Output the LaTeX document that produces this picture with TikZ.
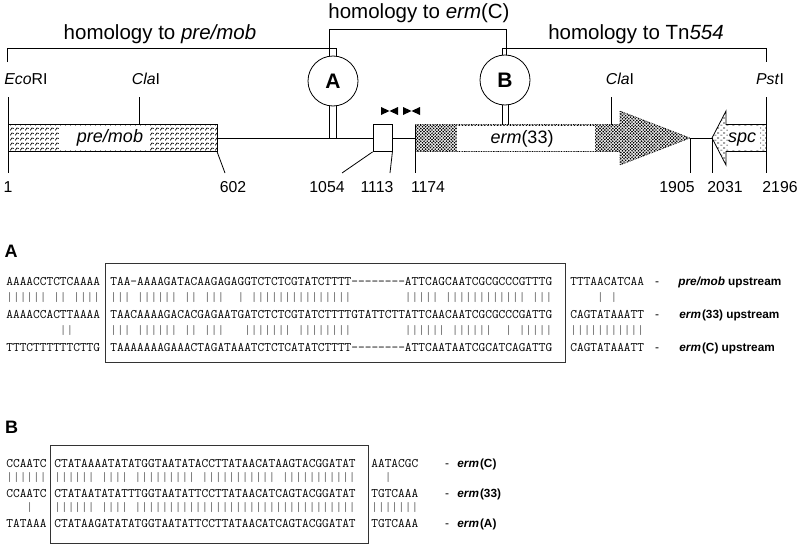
\documentclass[tikz,border=0pt]{standalone}
\usepackage{fontspec}
\setmainfont{Liberation Sans}
\usetikzlibrary{patterns}
\pgfdeclarepatternformonly{stip}{\pgfqpoint{-1pt}{-1pt}}{\pgfqpoint{4.2pt}{4.2pt}}{\pgfqpoint{3.2pt}{3.2pt}}{%
  \pgfpathcircle{\pgfqpoint{0pt}{0pt}}{0.95pt}%
  \pgfpathcircle{\pgfqpoint{1.6pt}{1.6pt}}{0.95pt}%
  \pgfusepath{fill}}
\pgfdeclarepatternformonly{scales}{\pgfqpoint{0pt}{0pt}}{\pgfqpoint{5pt}{5pt}}{\pgfqpoint{5pt}{5pt}}{%
  \pgfsetlinewidth{0.8pt}%
  \pgfpathmoveto{\pgfqpoint{0.4pt}{0.8pt}}%
  \pgfpathcurveto{\pgfqpoint{0.8pt}{3.5pt}}{\pgfqpoint{3.4pt}{4.6pt}}{\pgfqpoint{4.6pt}{3pt}}%
  \pgfusepath{stroke}}
\pgfdeclarepatternformonly{hdash}{\pgfqpoint{0pt}{0pt}}{\pgfqpoint{6pt}{5pt}}{\pgfqpoint{6pt}{5pt}}{%
  \pgfsetlinewidth{0.8pt}%
  \pgfpathmoveto{\pgfqpoint{0.5pt}{1pt}}\pgfpathlineto{\pgfqpoint{2.8pt}{1pt}}%
  \pgfpathmoveto{\pgfqpoint{3.5pt}{3.5pt}}\pgfpathlineto{\pgfqpoint{5.8pt}{3.5pt}}%
  \pgfusepath{stroke}}
\begin{document}
\begin{tikzpicture}[x=1pt,y=-1pt,line width=0.8pt,
  lbl/.style={inner sep=0pt,font=\fontsize{15.8}{16}\selectfont},
  hom/.style={inner sep=0pt,anchor=base,font=\fontsize{20.5}{22}\selectfont},
  gene/.style={inner sep=0pt,anchor=base,font=\fontsize{18}{18}\selectfont\itshape},
  circ/.style={circle,draw,fill=white,minimum size=50pt,inner sep=0pt,font=\bfseries\fontsize{21}{21}\selectfont},
  seq/.style={inner sep=0pt,anchor=base west,font=\fontsize{13}{13}\selectfont\ttfamily},
  bars/.style={seq,text=black!60},
  tag/.style={inner sep=0pt,anchor=base west,font=\bfseries\fontsize{11.8}{12}\selectfont},
  dsh/.style={inner sep=0pt,anchor=base,font=\fontsize{12}{12}\selectfont},
  sect/.style={inner sep=0pt,font=\bfseries\fontsize{18}{18}\selectfont},
  seqbox/.style={draw=black!80,line width=0.9pt}]
\useasboundingbox (0,0) rectangle (800,546);

% ---------------- map ----------------
\node[hom] (hpm) at (160,39.5) {homology to \textit{pre/mob}};
\node[hom] (hec) at (419,18.5) {homology to \textit{erm}(C)};
\node[hom] (htn) at (636,39.5) {homology to Tn\textit{554}};

\node[circ] (cA) at (333,81) {A};
\node[circ] (cB) at (505,80) {B};

\draw (7.5,62) -- (7.5,48) -- (336,48) -- ([xshift=3pt]cA.north);
\draw ([xshift=-4pt]cA.north) -- (329,29) -- (506,29) -- ([xshift=1pt]cB.north);
\draw ([xshift=-3pt]cB.north) -- (502,48) -- (766,48) -- (766,62);

% site labels
\node[lbl,anchor=west] (eco) at (4,79) {\textit{Eco}RI};
\node[lbl] (cla1) at (146,79) {\textit{Cla}I};
\node[lbl] (cla2) at (620,79) {\textit{Cla}I};
\node[lbl] (pst) at (770,79) {\textit{Pst}I};

% pre/mob box
\fill[pattern=scales] (8,124.5) rectangle (217,151.5);
\fill[white] (60,126) rectangle (150,150);
\draw (8,124.5) rectangle (217,151.5);
\node[gene] (gpm) at (110,142.5) {pre/mob};

% backbone
\coordinate (bb1) at (217,138);
\node[draw,fill=white,minimum width=19pt,minimum height=27pt,inner sep=0pt] (sbox) at (382.5,138) {};
\draw (bb1) -- (sbox.west);
\draw (sbox.east) -- (415,138);
\draw ([xshift=-4pt]cA.south) -- (329,138);
\draw ([xshift=3pt]cA.south) -- (336,138);

% erm(33) arrow
\fill[pattern=stip] (415,124.5) -- (620,124.5) -- (620,111) -- (690,138) -- (620,165) -- (620,151.5) -- (415,151.5) -- cycle;
\fill[white] (457,125.5) rectangle (595,150.5);
\draw[densely dotted,line width=0.7pt] (415,124.5) -- (620,124.5) -- (620,111) -- (690,138) -- (620,165) -- (620,151.5) -- (415,151.5);
\node[gene] (germ) at (522,143.5) {erm\upshape(33)};
\draw ([xshift=-3pt]cB.south) -- (502,124.5);
\draw ([xshift=3pt]cB.south) -- (508,124.5);

% spc arrow
\fill[pattern=hdash] (766,124.5) -- (726,124.5) -- (726,111) -- (712,138) -- (726,165) -- (726,151.5) -- (766,151.5) -- cycle;
\fill[white] (728,126) rectangle (760,150);
\draw (766,124.5) -- (726,124.5) -- (726,111) -- (712,138) -- (726,165) -- (726,151.5) -- (766,151.5);
\node[gene] (gspc) at (742,142) {spc};
\draw (690,138) -- (712,138);

% ticks
\draw (8,97) -- (8,173);
\draw (139,97) -- (139,124.5);
\draw (611,97) -- (611,124.5);
\draw (766,97) -- (766,173);
\draw (217,151.5) -- (225,173);
\draw (sbox.south west) -- (342,173);
\draw (sbox.south east) -- (390,173);
\draw (415,124.5) -- (415,173);
\draw (690,138) -- (690,173);
\draw (712,138) -- (712,173);

% inverted repeats
\fill (381,107) -- (389.5,111) -- (381,115) -- cycle;
\fill (398,107) -- (389.5,111) -- (398,115) -- cycle;
\fill (403,107) -- (411.5,111) -- (403,115) -- cycle;
\fill (420,107) -- (411.5,111) -- (420,115) -- cycle;

% positions
\node[lbl] (p1) at (8,187) {1};
\node[lbl] (p602) at (233,187) {602};
\node[lbl] (p1054) at (327,187) {1054};
\node[lbl] (p1113) at (377,187) {1113};
\node[lbl] (p1174) at (428,187) {1174};
\node[lbl] (p1905) at (677,187) {1905};
\node[lbl] (p2031) at (725,187) {2031};
\node[lbl] (p2196) at (780,187) {2196};

% ---------------- A ----------------
\node[sect] (secA) at (11,251) {A};
\draw[seqbox] (105,263) rectangle (565,362);
\node[seq] (a1l) at (6,285) {AAAACCTCTCAAAA};
\node[bars] (a12l) at (6,301) {||||||~||~||||};
\node[seq] (a2l) at (6,318) {AAAACCACTTAAAA};
\node[bars] (a23l) at (6,334.5) {~~~~~~~~||};
\node[seq] (a3l) at (6,351) {TTTCTTTTTTCTTG};

\node[seq] (a1m) at (110,285) {TAA-AAAAGATACAAGAGAGGTCTCTCGTATCTTTT-{}-{}-{}-{}-{}-{}-{}-{}ATTCAGCAATCGCGCCCGTTTG};
\node[bars] (a12m) at (110,301) {|||~||||||~||~|||~~|~|||||||||||||||~~~~~~~~|||||~||||||||||||~|||};
\node[seq] (a2m) at (110,318) {TAACAAAAGACACGAGAATGATCTCTCGTATCTTTTGTATTCTTATTCAACAATCGCGCCCGATTG};
\node[bars] (a23m) at (110,334.5) {|||~||||||~||~|||~~~|||||||~||||||||~~~~~~~~||||||~||||||~~|~|||||};
\node[seq] (a3m) at (110,351) {TAAAAAAAGAAACTAGATAAATCTCTCATATCTTTT-{}-{}-{}-{}-{}-{}-{}-{}ATTCAATAATCGCATCAGATTG};

\node[seq] (a1r) at (570,285) {TTTAACATCAA};
\node[bars] (a12r) at (570,301) {~~~~|~|};
\node[seq] (a2r) at (570,318) {CAGTATAAATT};
\node[bars] (a23r) at (570,334.5) {|||||||||||};
\node[seq] (a3r) at (570,351) {CAGTATAAATT};

\node[dsh] (ad1) at (657,285) {-};
\node[dsh] (ad2) at (657,318) {-};
\node[dsh] (ad3) at (657,351) {-};
\node[tag] (at1) at (678,285) {\textit{pre/mob} upstream};
\node[tag] (at2) at (679,318) {\textit{erm}\kern1pt(33) upstream};
\node[tag] (at3) at (679,351) {\textit{erm}\kern1pt(C) upstream};

% ---------------- B ----------------
\node[sect] (secB) at (11.5,427.5) {B};
\draw[seqbox] (50,445) rectangle (368,543);
\node[seq] (b1l) at (6,467) {CCAATC};
\node[bars] (b12l) at (6,481) {||||||};
\node[seq] (b2l) at (6,497) {CCAATC};
\node[bars] (b23l) at (6,511) {~~~|};
\node[seq] (b3l) at (6,527) {TATAAA};

\node[seq] (b1m) at (54,467) {CTATAAAATATATGGTAATATACCTTATAACATAAGTACGGATAT};
\node[bars] (b12m) at (54,481) {||||||~||||~|||||||||~|||||||||||~|||||||||||};
\node[seq] (b2m) at (54,497) {CTATAATATATTTGGTAATATTCCTTATAACATCAGTACGGATAT};
\node[bars] (b23m) at (54,511) {||||||~||||~|||||||||||||||||||||||||||||||||};
\node[seq] (b3m) at (54,527) {CTATAAGATATATGGTAATATTCCTTATAACATCAGTACGGATAT};

\node[seq] (b1r) at (371,467) {AATACGC};
\node[bars] (b12r) at (371,481) {~~|};
\node[seq] (b2r) at (371,497) {TGTCAAA};
\node[bars] (b23r) at (371,511) {|||||||};
\node[seq] (b3r) at (371,527) {TGTCAAA};

\node[dsh] (bd1) at (447,467) {-};
\node[dsh] (bd2) at (447,497) {-};
\node[dsh] (bd3) at (447,527) {-};
\node[tag] (bt1) at (457,467) {\textit{erm}\kern1pt(C)};
\node[tag] (bt2) at (457,497) {\textit{erm}\kern1pt(33)};
\node[tag] (bt3) at (457,527) {\textit{erm}\kern1pt(A)};
\end{tikzpicture}
\end{document}
